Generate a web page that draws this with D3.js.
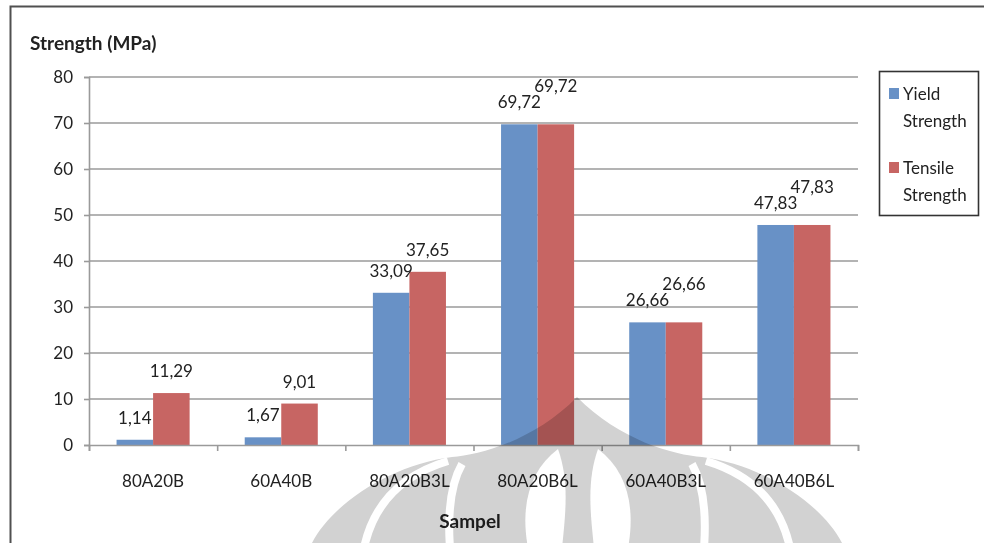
<!DOCTYPE html>
<html>
<head>
<meta charset="utf-8">
<script src="https://cdn.jsdelivr.net/npm/d3@7/dist/d3.min.js"></script>
<style>
  body { margin: 0; background: #fff; }
  svg { display: block; font-family: Lato, "Open Sans", sans-serif; }
</style>
</head>
<body>
<svg id="chart" width="984" height="543"></svg>
<script>
// chart data
var categories = ["80A20B", "60A40B", "80A20B3L", "80A20B6L", "60A40B3L", "60A40B6L"];
var seriesNames = ["Yield Strength", "Tensile Strength"];
var yieldValues = [1.14, 1.67, 33.09, 69.72, 26.66, 47.83];
var tensileValues = [11.29, 9.01, 37.65, 69.72, 26.66, 47.83];
var yTicks = [0, 10, 20, 30, 40, 50, 60, 70, 80];

var barColors = ["#6891c6", "#c76563"];
var gridColor = "#9a9a9a";
var textColor = "#222";

var svg = d3.select("#chart");
var plotLeft = 89, plotRight = 858, plotTop = 77, plotBottom = 445;

// comma decimal like the original
var locale = d3.formatLocale({decimal: ",", thousands: ".", grouping: [3], currency: ["", ""]});
var fmt = locale.format(".2f");

// outer frame (runs off the page right and bottom)
svg.append("rect")
  .attr("x", 10.5).attr("y", 6.5)
  .attr("width", 1000).attr("height", 600)
  .attr("fill", "none").attr("stroke", "#505050").attr("stroke-width", 2);

var x = d3.scaleBand().domain(categories).range([plotLeft, plotRight])
  .paddingInner(0.43).paddingOuter(0.215);
var xSub = d3.scaleBand().domain(seriesNames).range([0, x.bandwidth()]);
var y = d3.scaleLinear().domain([0, 80]).range([plotBottom, plotTop]);
var xEdge = d3.scaleLinear().domain([0, categories.length]).range([plotLeft, plotRight]);

// gridlines
svg.append("g").selectAll("line")
  .data(yTicks.filter(function(d) { return d > 0; }))
  .enter().append("line")
  .attr("x1", plotLeft).attr("x2", plotRight)
  .attr("y1", function(d) { return y(d); }).attr("y2", function(d) { return y(d); })
  .attr("stroke", gridColor).attr("stroke-width", 1.6);

// y axis
var yAxis = svg.append("g")
  .attr("transform", "translate(" + plotLeft + ",0)")
  .call(d3.axisLeft(y).tickValues(yTicks).tickSize(5).tickPadding(11));
yAxis.select(".domain").attr("stroke", gridColor).attr("stroke-width", 1.6);
yAxis.selectAll(".tick line").attr("stroke", gridColor).attr("stroke-width", 1.6);
yAxis.selectAll("text").attr("font-size", 17).attr("fill", textColor)
  .attr("font-family", "Lato, sans-serif");

// bars
var rows = categories.map(function(c, i) {
  return {cat: c, vals: [yieldValues[i], tensileValues[i]]};
});
var groups = svg.append("g").selectAll("g")
  .data(rows).enter().append("g")
  .attr("transform", function(d) { return "translate(" + x(d.cat) + ",0)"; });

groups.selectAll("rect")
  .data(function(d) { return d.vals.map(function(v, k) { return {k: k, v: v}; }); })
  .enter().append("rect")
  .attr("x", function(d) { return xSub(seriesNames[d.k]); })
  .attr("y", function(d) { return y(d.v); })
  .attr("width", xSub.bandwidth())
  .attr("height", function(d) { return plotBottom - y(d.v); })
  .attr("fill", function(d) { return barColors[d.k]; });

// data labels; when both bars are equal the second label is lifted
groups.selectAll("text")
  .data(function(d) {
    var same = Math.abs(d.vals[0] - d.vals[1]) < 0.01;
    return d.vals.map(function(v, k) { return {k: k, v: v, lift: same && k == 1}; });
  })
  .enter().append("text")
  .attr("x", function(d) { return xSub(seriesNames[d.k]) + xSub.bandwidth() / 2; })
  .attr("y", function(d) { return y(d.v) - (d.lift ? 32 : 16); })
  .attr("text-anchor", "middle")
  .attr("font-size", 17).attr("fill", textColor)
  .text(function(d) { return fmt(d.v); });

// x axis: tick marks at category edges
var xAxis = svg.append("g")
  .attr("transform", "translate(0," + plotBottom + ")")
  .call(d3.axisBottom(xEdge).tickValues(d3.range(categories.length + 1)).tickSize(6).tickFormat(""));
xAxis.select(".domain").attr("stroke", gridColor).attr("stroke-width", 1.6);
xAxis.selectAll(".tick line").attr("stroke", gridColor).attr("stroke-width", 1.6);

var xLabels = svg.append("g")
  .attr("transform", "translate(0," + plotBottom + ")")
  .call(d3.axisBottom(x).tickSize(0).tickPadding(30));
xLabels.select(".domain").remove();
xLabels.selectAll("text").attr("font-size", 17).attr("fill", textColor)
  .attr("font-family", "Lato, sans-serif");

// titles
svg.append("text").attr("x", 30).attr("y", 50)
  .attr("font-size", 19).attr("font-weight", "bold").attr("fill", textColor)
  .text("Strength (MPa)");
svg.append("text").attr("x", 470).attr("y", 528)
  .attr("text-anchor", "middle")
  .attr("font-size", 19).attr("font-weight", "bold").attr("fill", textColor)
  .text("Sampel");

// legend
var legend = svg.append("g");
legend.append("rect")
  .attr("x", 879.5).attr("y", 71.5).attr("width", 99).attr("height", 144)
  .attr("fill", "#fff").attr("stroke", "#333").attr("stroke-width", 1.6);
var legendItems = legend.selectAll("g.item")
  .data(seriesNames).enter().append("g").attr("class", "item")
  .attr("transform", function(d, i) { return "translate(889," + (88 + i * 74) + ")"; });
legendItems.append("rect")
  .attr("width", 10).attr("height", 11)
  .attr("fill", function(d, i) { return barColors[i]; });
legendItems.each(function(d) {
  var words = d.split(" ");
  var t = d3.select(this).append("text")
    .attr("font-size", 17).attr("fill", textColor);
  words.forEach(function(w, j) {
    t.append("tspan").attr("x", 14).attr("y", 12 + j * 27).text(w);
  });
});

// faint watermark at the bottom (scan artefact)
var mark = svg.append("g")
  .style("mix-blend-mode", "multiply")
  .attr("fill", "#d2d2d2");
mark.append("path")
  .attr("d", "M311,545 C330,505 390,465 452,457 C480,455 535,440 577,397 " +
             "C619,440 674,455 702,457 C764,465 824,505 843,545 Z");
var gaps = mark.append("g").attr("fill", "none").attr("stroke", "#fff")
  .attr("stroke-width", 8).attr("stroke-linecap", "butt");
gaps.append("path").attr("d", "M364,548 Q378,482 448,461");
gaps.append("path").attr("d", "M790,548 Q776,482 706,461");
gaps.append("path").attr("d", "M450,548 Q446,492 462,464");
gaps.append("path").attr("d", "M704,548 Q708,492 692,464");
mark.append("path").attr("fill", "#fff")
  .attr("d", "M558,449 C530,470 520,505 528,548 L562,548 C566,510 569,480 558,449 Z");
mark.append("path").attr("fill", "#fff")
  .attr("d", "M598,449 C626,470 636,505 628,548 L594,548 C590,510 587,480 598,449 Z");
</script>
</body>
</html>
